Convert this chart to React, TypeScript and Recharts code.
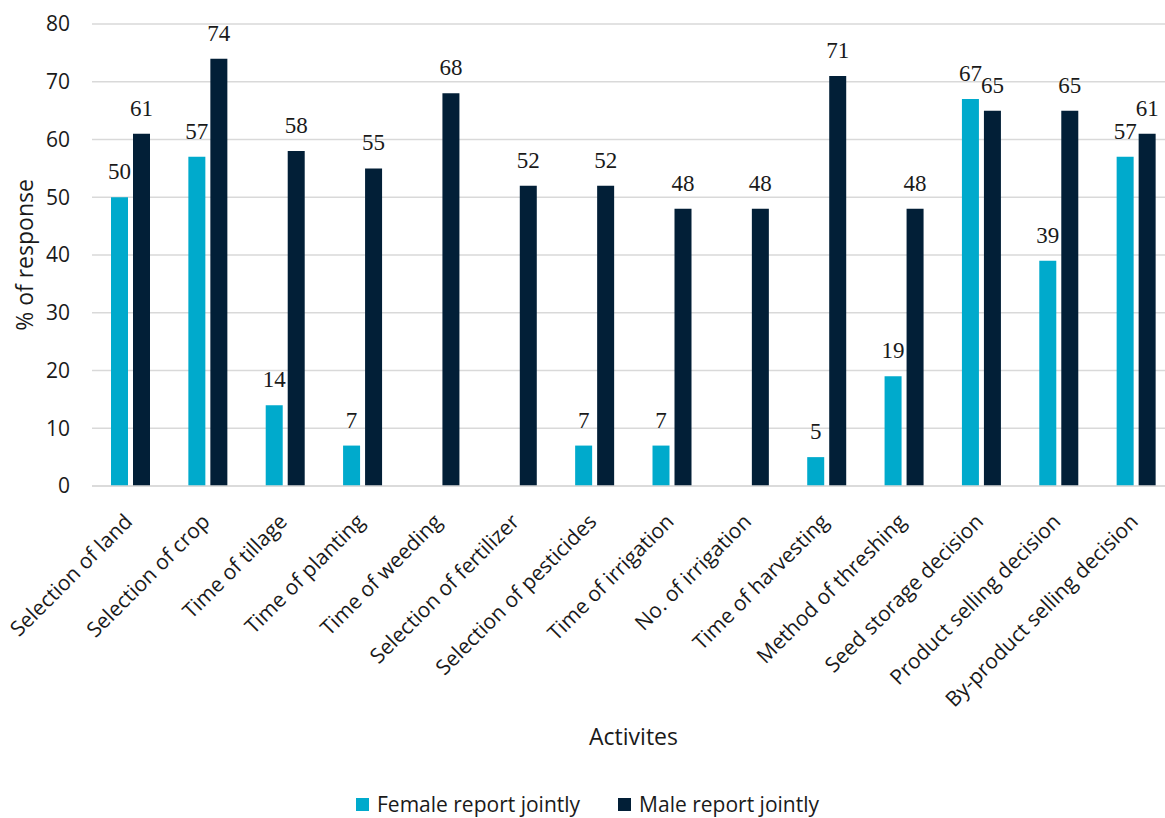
import { BarChart, Bar, XAxis, YAxis, CartesianGrid, Legend, LabelList } from "recharts";

const activities = [
  "Selection of land",
  "Selection of crop",
  "Time of tillage",
  "Time of planting",
  "Time of weeding",
  "Selection of fertilizer",
  "Selection of pesticides",
  "Time of irrigation",
  "No. of irrigation",
  "Time of harvesting",
  "Method of threshing",
  "Seed storage decision",
  "Product selling decision",
  "By-product selling decision",
];

const femaleJointly = [50, 57, 14, 7, 0, 0, 7, 7, 0, 5, 19, 67, 39, 57];
const maleJointly = [61, 74, 58, 55, 68, 52, 52, 48, 48, 71, 48, 65, 65, 61];

const yTicks = [0, 10, 20, 30, 40, 50, 60, 70, 80];

const FEMALE = "#00aacc";
const MALE = "#021f37";
const SANS = "'Open Sans', Lato, sans-serif";
const SERIF = "'Liberation Serif', 'DejaVu Serif', serif";
const INK = "#1a1a1a";

const rows = activities.map((name, i) => ({
  name,
  female: femaleJointly[i],
  male: maleJointly[i],
}));

const ActivityTick = ({ x, y, payload }: any) => (
  <g transform={`translate(${x + 3},${y + 29})`}>
    <text textAnchor="end" transform="rotate(-45)" fontFamily={SANS} fontSize={21} fill={INK}>
      {payload.value}
    </text>
  </g>
);

const YTitle = ({ viewBox }: any) => {
  const cy = viewBox.y + viewBox.height / 2;
  return (
    <text
      x={33}
      y={cy}
      transform={`rotate(-90, 33, ${cy})`}
      textAnchor="middle"
      fontFamily={SANS}
      fontSize={23}
      fill={INK}
    >
      % of response
    </text>
  );
};

const LegendBox = () => (
  <div
    style={{
      display: "flex",
      justifyContent: "center",
      gap: 38,
      paddingTop: 45,
      fontFamily: SANS,
      fontSize: 21,
      lineHeight: "22px",
      color: INK,
    }}
  >
    {[
      { label: "Female report jointly", color: FEMALE },
      { label: "Male report jointly", color: MALE },
    ].map((it) => (
      <div key={it.label} style={{ display: "flex", alignItems: "center", gap: 8 }}>
        <span style={{ width: 13, height: 13, background: it.color, display: "inline-block" }} />
        <span>{it.label}</span>
      </div>
    ))}
  </div>
);

const hideZero = (v: any) => (v ? v : "");

export default function App() {
  return (
    <div style={{ position: "fixed", left: 0, top: 0, width: 1165, height: 818, overflow: "hidden", background: "#fff" }}>
      <BarChart
        width={1184}
        height={818}
        data={rows}
        margin={{ top: 24, right: 9, bottom: 0, left: 0 }}
        barGap={5}
        barSize={17}
      >
        <CartesianGrid vertical={false} stroke="#d9d9d9" strokeWidth={1.5} />
        <XAxis
          dataKey="name"
          interval={0}
          height={262}
          axisLine={{ stroke: "#d9d9d9", strokeWidth: 1.5 }}
          tickLine={false}
          tick={<ActivityTick />}
          label={{
            value: "Activites",
            position: "insideBottom",
            offset: 3,
            fontFamily: SANS,
            fontSize: 23,
            fill: INK,
          }}
        />
        <YAxis
          domain={[0, 80]}
          ticks={yTicks}
          width={92}
          axisLine={false}
          tickLine={false}
          tickSize={0}
          tickMargin={22}
          tick={{ fontFamily: SANS, fontSize: 21, fill: INK }}
          label={<YTitle />}
        />
        <Legend verticalAlign="bottom" height={70} content={<LegendBox />} />
        <Bar dataKey="female" name="Female report jointly" fill={FEMALE} isAnimationActive={false}>
          <LabelList
            dataKey="female"
            position="top"
            offset={18}
            formatter={hideZero}
            style={{ fontFamily: SERIF, fontSize: 23, fill: INK }}
          />
        </Bar>
        <Bar dataKey="male" name="Male report jointly" fill={MALE} isAnimationActive={false}>
          <LabelList
            dataKey="male"
            position="top"
            offset={18}
            formatter={hideZero}
            style={{ fontFamily: SERIF, fontSize: 23, fill: INK }}
          />
        </Bar>
      </BarChart>
    </div>
  );
}
